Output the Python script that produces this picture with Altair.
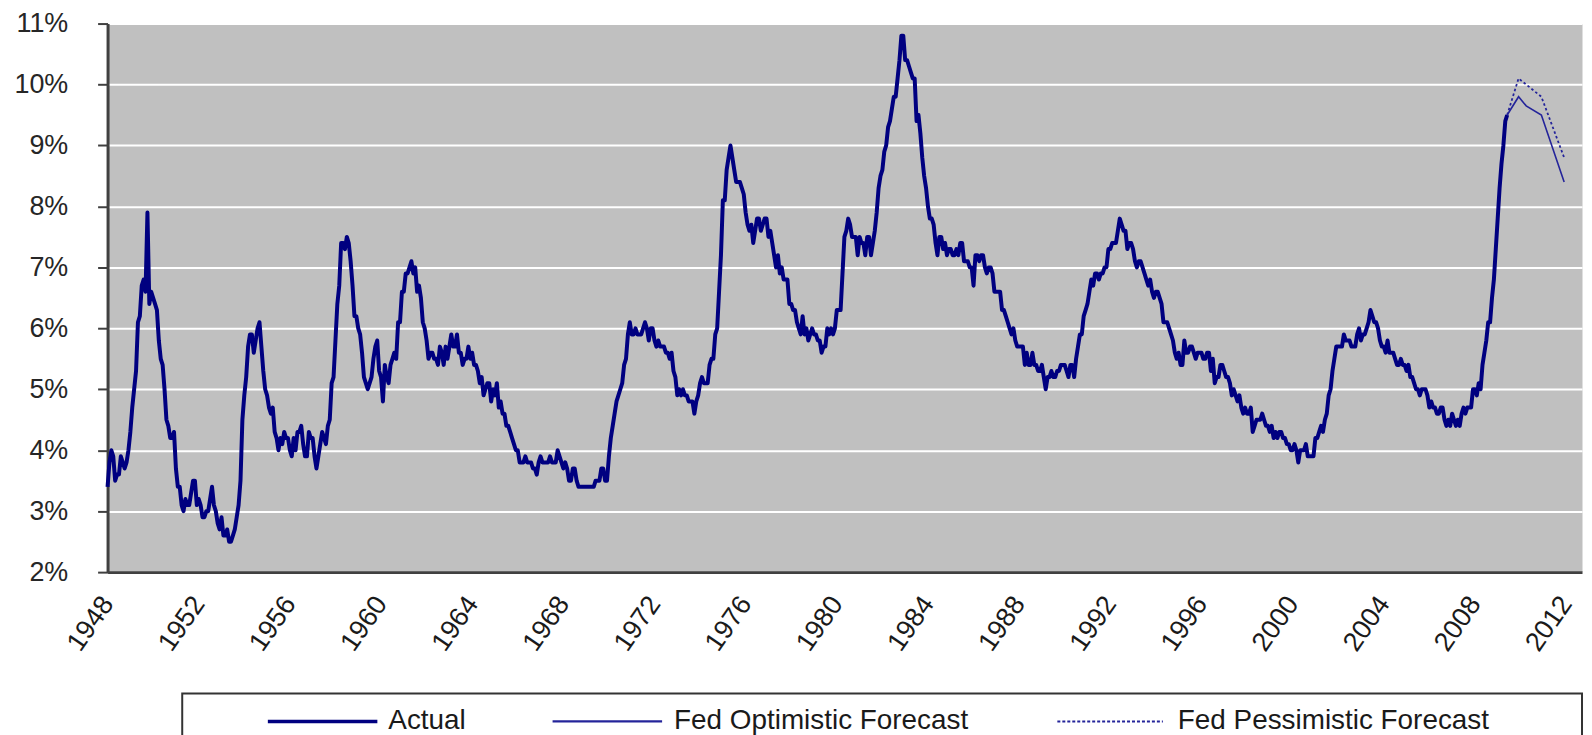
import altair as alt
import pandas as pd

# Monthly unemployment rate, Jan 1948 .. Jun 2009 (percent)
start_year = 1948
actual_rate = [
    3.4, 3.8, 4.0, 3.9, 3.5, 3.6, 3.6, 3.9, 3.8, 3.7, 3.8, 4.0,   # 1948
    4.3, 4.7, 5.0, 5.3, 6.1, 6.2, 6.7, 6.8, 6.6, 7.9, 6.4, 6.6,   # 1949
    6.5, 6.4, 6.3, 5.8, 5.5, 5.4, 5.0, 4.5, 4.4, 4.2, 4.2, 4.3,   # 1950
    3.7, 3.4, 3.4, 3.1, 3.0, 3.2, 3.1, 3.1, 3.3, 3.5, 3.5, 3.1,   # 1951
    3.2, 3.1, 2.9, 2.9, 3.0, 3.0, 3.2, 3.4, 3.1, 3.0, 2.8, 2.7,   # 1952
    2.9, 2.6, 2.6, 2.7, 2.5, 2.5, 2.6, 2.7, 2.9, 3.1, 3.5, 4.5,   # 1953
    4.9, 5.2, 5.7, 5.9, 5.9, 5.6, 5.8, 6.0, 6.1, 5.7, 5.3, 5.0,   # 1954
    4.9, 4.7, 4.6, 4.7, 4.3, 4.2, 4.0, 4.2, 4.1, 4.3, 4.2, 4.2,   # 1955
    4.0, 3.9, 4.2, 4.0, 4.3, 4.3, 4.4, 4.1, 3.9, 3.9, 4.3, 4.2,   # 1956
    4.2, 3.9, 3.7, 3.9, 4.1, 4.3, 4.2, 4.1, 4.4, 4.5, 5.1, 5.2,   # 1957
    5.8, 6.4, 6.7, 7.4, 7.4, 7.3, 7.5, 7.4, 7.1, 6.7, 6.2, 6.2,   # 1958
    6.0, 5.9, 5.6, 5.2, 5.1, 5.0, 5.1, 5.2, 5.5, 5.7, 5.8, 5.3,   # 1959
    5.2, 4.8, 5.4, 5.2, 5.1, 5.4, 5.5, 5.6, 5.5, 6.1, 6.1, 6.6,   # 1960
    6.6, 6.9, 6.9, 7.0, 7.1, 6.9, 7.0, 6.6, 6.7, 6.5, 6.1, 6.0,   # 1961
    5.8, 5.5, 5.6, 5.6, 5.5, 5.5, 5.4, 5.7, 5.6, 5.4, 5.7, 5.5,   # 1962
    5.7, 5.9, 5.7, 5.7, 5.9, 5.6, 5.6, 5.4, 5.5, 5.5, 5.7, 5.5,   # 1963
    5.6, 5.4, 5.4, 5.3, 5.1, 5.2, 4.9, 5.0, 5.1, 5.1, 4.8, 5.0,   # 1964
    4.9, 5.1, 4.7, 4.8, 4.6, 4.6, 4.4, 4.4, 4.3, 4.2, 4.1, 4.0,   # 1965
    4.0, 3.8, 3.8, 3.8, 3.9, 3.8, 3.8, 3.8, 3.7, 3.7, 3.6, 3.8,   # 1966
    3.9, 3.8, 3.8, 3.8, 3.8, 3.9, 3.8, 3.8, 3.8, 4.0, 3.9, 3.8,   # 1967
    3.7, 3.8, 3.7, 3.5, 3.5, 3.7, 3.7, 3.5, 3.4, 3.4, 3.4, 3.4,   # 1968
    3.4, 3.4, 3.4, 3.4, 3.4, 3.5, 3.5, 3.5, 3.7, 3.7, 3.5, 3.5,   # 1969
    3.9, 4.2, 4.4, 4.6, 4.8, 4.9, 5.0, 5.1, 5.4, 5.5, 5.9, 6.1,   # 1970
    5.9, 5.9, 6.0, 5.9, 5.9, 5.9, 6.0, 6.1, 6.0, 5.8, 6.0, 6.0,   # 1971
    5.8, 5.7, 5.8, 5.7, 5.7, 5.7, 5.6, 5.6, 5.5, 5.6, 5.3, 5.2,   # 1972
    4.9, 5.0, 4.9, 5.0, 4.9, 4.9, 4.8, 4.8, 4.8, 4.6, 4.8, 4.9,   # 1973
    5.1, 5.2, 5.1, 5.1, 5.1, 5.4, 5.5, 5.5, 5.9, 6.0, 6.6, 7.2,   # 1974
    8.1, 8.1, 8.6, 8.8, 9.0, 8.8, 8.6, 8.4, 8.4, 8.4, 8.3, 8.2,   # 1975
    7.9, 7.7, 7.6, 7.7, 7.4, 7.6, 7.8, 7.8, 7.6, 7.7, 7.8, 7.8,   # 1976
    7.5, 7.6, 7.4, 7.2, 7.0, 7.2, 6.9, 7.0, 6.8, 6.8, 6.8, 6.4,   # 1977
    6.4, 6.3, 6.3, 6.1, 6.0, 5.9, 6.2, 5.9, 6.0, 5.8, 5.9, 6.0,   # 1978
    5.9, 5.9, 5.8, 5.8, 5.6, 5.7, 5.7, 6.0, 5.9, 6.0, 5.9, 6.0,   # 1979
    6.3, 6.3, 6.3, 6.9, 7.5, 7.6, 7.8, 7.7, 7.5, 7.5, 7.5, 7.2,   # 1980
    7.5, 7.4, 7.4, 7.2, 7.5, 7.5, 7.2, 7.4, 7.6, 7.9, 8.3, 8.5,   # 1981
    8.6, 8.9, 9.0, 9.3, 9.4, 9.6, 9.8, 9.8, 10.1, 10.4, 10.8, 10.8,  # 1982
    10.4, 10.4, 10.3, 10.2, 10.1, 10.1, 9.4, 9.5, 9.2, 8.8, 8.5, 8.3,  # 1983
    8.0, 7.8, 7.8, 7.7, 7.4, 7.2, 7.5, 7.5, 7.3, 7.4, 7.2, 7.3,   # 1984
    7.3, 7.2, 7.2, 7.3, 7.2, 7.4, 7.4, 7.1, 7.1, 7.1, 7.0, 7.0,   # 1985
    6.7, 7.2, 7.2, 7.1, 7.2, 7.2, 7.0, 6.9, 7.0, 7.0, 6.9, 6.6,   # 1986
    6.6, 6.6, 6.6, 6.3, 6.3, 6.2, 6.1, 6.0, 5.9, 6.0, 5.8, 5.7,   # 1987
    5.7, 5.7, 5.7, 5.4, 5.6, 5.4, 5.4, 5.6, 5.4, 5.4, 5.3, 5.3,   # 1988
    5.4, 5.2, 5.0, 5.2, 5.2, 5.3, 5.2, 5.2, 5.3, 5.3, 5.4, 5.4,   # 1989
    5.4, 5.3, 5.2, 5.4, 5.4, 5.2, 5.5, 5.7, 5.9, 5.9, 6.2, 6.3,   # 1990
    6.4, 6.6, 6.8, 6.7, 6.9, 6.9, 6.8, 6.9, 6.9, 7.0, 7.0, 7.3,   # 1991
    7.3, 7.4, 7.4, 7.4, 7.6, 7.8, 7.7, 7.6, 7.6, 7.3, 7.4, 7.4,   # 1992
    7.3, 7.1, 7.0, 7.1, 7.1, 7.0, 6.9, 6.8, 6.7, 6.8, 6.6, 6.5,   # 1993
    6.6, 6.6, 6.5, 6.4, 6.1, 6.1, 6.1, 6.0, 5.9, 5.8, 5.6, 5.5,   # 1994
    5.6, 5.4, 5.4, 5.8, 5.6, 5.6, 5.7, 5.7, 5.6, 5.5, 5.6, 5.6,   # 1995
    5.6, 5.5, 5.5, 5.6, 5.6, 5.3, 5.5, 5.1, 5.2, 5.2, 5.4, 5.4,   # 1996
    5.3, 5.2, 5.2, 5.1, 4.9, 5.0, 4.9, 4.8, 4.9, 4.7, 4.6, 4.7,   # 1997
    4.6, 4.6, 4.7, 4.3, 4.4, 4.5, 4.5, 4.5, 4.6, 4.5, 4.4, 4.4,   # 1998
    4.3, 4.4, 4.2, 4.3, 4.2, 4.3, 4.3, 4.2, 4.2, 4.1, 4.1, 4.0,   # 1999
    4.0, 4.1, 4.0, 3.8, 4.0, 4.0, 4.0, 4.1, 3.9, 3.9, 3.9, 3.9,   # 2000
    4.2, 4.2, 4.3, 4.4, 4.3, 4.5, 4.6, 4.9, 5.0, 5.3, 5.5, 5.7,   # 2001
    5.7, 5.7, 5.7, 5.9, 5.8, 5.8, 5.8, 5.7, 5.7, 5.7, 5.9, 6.0,   # 2002
    5.8, 5.9, 5.9, 6.0, 6.1, 6.3, 6.2, 6.1, 6.1, 6.0, 5.8, 5.7,   # 2003
    5.7, 5.6, 5.8, 5.6, 5.6, 5.6, 5.5, 5.4, 5.4, 5.5, 5.4, 5.4,   # 2004
    5.3, 5.4, 5.2, 5.2, 5.1, 5.0, 5.0, 4.9, 5.0, 5.0, 5.0, 4.9,   # 2005
    4.7, 4.8, 4.7, 4.7, 4.6, 4.6, 4.7, 4.7, 4.5, 4.4, 4.5, 4.4,   # 2006
    4.6, 4.5, 4.4, 4.5, 4.4, 4.6, 4.7, 4.6, 4.7, 4.7, 4.7, 5.0,   # 2007
    5.0, 4.9, 5.1, 5.0, 5.4, 5.6, 5.8, 6.1, 6.1, 6.5, 6.8, 7.3,   # 2008
    7.8, 8.3, 8.7, 9.0, 9.4, 9.5,                                 # 2009
]

# Fed forecast paths (year, month) and values
optimistic_dates = [(2009, 6), (2009, 12), (2010, 4), (2010, 12), (2011, 12)]
optimistic_rate = [9.5, 9.8, 9.65, 9.5, 8.4]
pessimistic_dates = [(2009, 6), (2009, 12), (2010, 12), (2011, 12)]
pessimistic_rate = [9.5, 10.1, 9.8, 8.8]

series_names = ["Actual", "Fed Optimistic Forecast", "Fed Pessimistic Forecast"]
x_ticks = list(range(1948, 2013, 4))
y_ticks = list(range(2, 12))


def dec(y, m):
    return y + (m - 1) / 12.0


actual_df = pd.DataFrame({
    "t": [start_year + i / 12.0 for i in range(len(actual_rate))],
    "rate": actual_rate,
})
opt_df = pd.DataFrame({"t": [dec(y, m) for y, m in optimistic_dates], "rate": optimistic_rate})
pes_df = pd.DataFrame({"t": [dec(y, m) for y, m in pessimistic_dates], "rate": pessimistic_rate})

FONT = "Liberation Sans"
NAVY = "#000080"
FC = "#24249a"

W, H = 1481, 551

xscale = alt.Scale(domain=[1948, 2012.7], nice=False, zero=False)
yscale = alt.Scale(domain=[2, 11], nice=False, zero=False)

x_axis = alt.Axis(values=x_ticks, format="d", labelAngle=305, labelAlign="right",
                  labelBaseline="middle", ticks=False, grid=False,
                  domainColor="#404040", domainWidth=3, labelPadding=27,
                  labelFontSize=27, labelFont=FONT, labelColor="#1a1a1a",
                  labelOverlap=False, labelFlush=False, title=None)
y_axis = alt.Axis(values=y_ticks, labelExpr="datum.value + '%'", tickSize=10,
                  tickWidth=2, tickColor="#404040", domainColor="#404040",
                  domainWidth=3, gridColor="white", gridWidth=2,
                  labelFontSize=27, labelFont=FONT, labelColor="#262626",
                  labelPadding=30, title=None)

actual_line = alt.Chart(actual_df).mark_line(
    color=NAVY, strokeWidth=4, strokeJoin="round"
).encode(
    x=alt.X("t:Q", scale=xscale, axis=x_axis),
    y=alt.Y("rate:Q", scale=yscale, axis=y_axis),
)

opt_line = alt.Chart(opt_df).mark_line(color=FC, strokeWidth=1.6).encode(
    x=alt.X("t:Q", scale=xscale), y=alt.Y("rate:Q", scale=yscale))
pes_line = alt.Chart(pes_df).mark_line(color=FC, strokeWidth=1.8, strokeDash=[2.5, 2.5]).encode(
    x=alt.X("t:Q", scale=xscale), y=alt.Y("rate:Q", scale=yscale))

# ---- legend (drawn below the plot) ----
one = pd.DataFrame({"k": [0]})
LY = 701  # legend row centre, relative to plot top
box = alt.Chart(one).mark_rect(fill="white", stroke="#333333", strokeWidth=2).encode(
    x=alt.value(75), x2=alt.value(1481), y=alt.value(673), y2=alt.value(780))

sym_specs = [
    (161, 271, NAVY, 3.5, None),
    (447, 557, FC, 2.2, None),
    (954, 1060, FC, 2.0, [3, 2]),
]
label_x = [282, 569, 1075]

legend_layers = [box]
for (x0, x1, col, sw, dash), name, lx in zip(sym_specs, series_names, label_x):
    kw = dict(color=col, strokeWidth=sw)
    if dash:
        kw["strokeDash"] = dash
    legend_layers.append(
        alt.Chart(one).mark_rule(**kw).encode(
            x=alt.value(x0), x2=alt.value(x1), y=alt.value(LY))
    )
    legend_layers.append(
        alt.Chart(one).mark_text(align="left", baseline="middle", fontSize=28,
                                 font=FONT, color="#1a1a1a").encode(
            x=alt.value(lx), y=alt.value(LY), text=alt.value(name))
    )

chart = alt.layer(actual_line, opt_line, pes_line, *legend_layers).properties(
    width=W, height=H,
    padding={"left": 100, "top": 14, "right": 2, "bottom": 170},
    autosize=alt.AutoSizeParams(type="none"),
    background="white",
).configure_view(fill="#c0c0c0", stroke="transparent")

chart.save("out.html", embed_options={"renderer": "svg", "actions": False})
